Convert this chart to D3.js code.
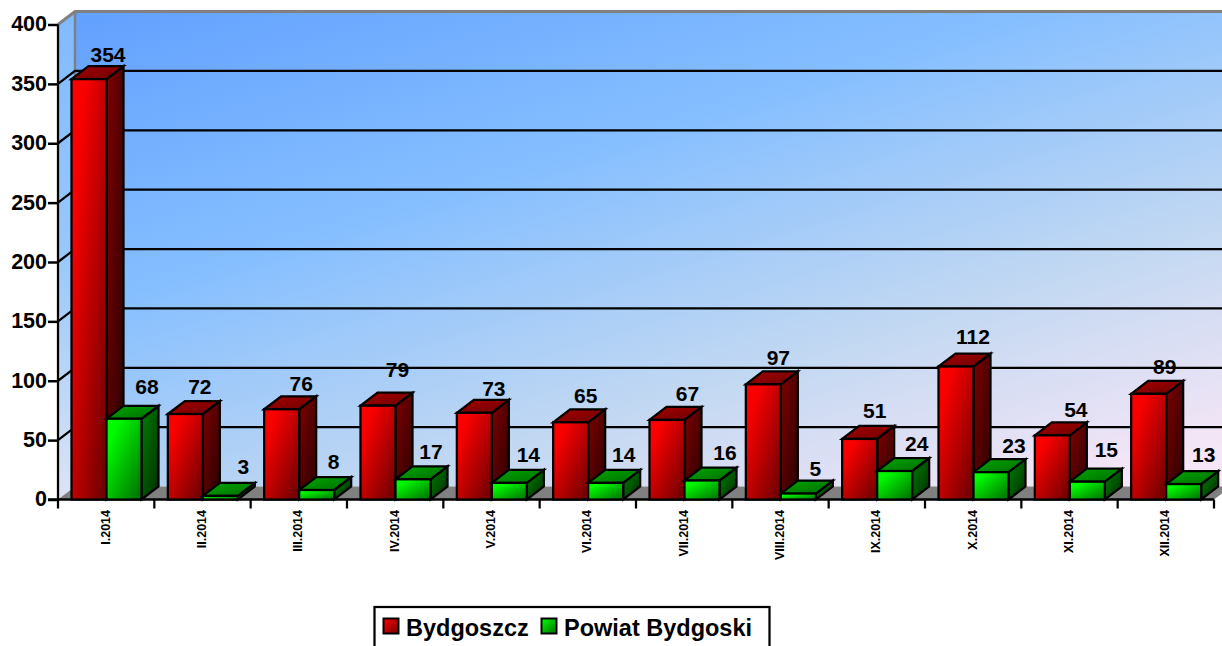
<!DOCTYPE html>
<html><head><meta charset="utf-8">
<script src="https://cdn.jsdelivr.net/npm/d3@7"></script>
<style>html,body{margin:0;padding:0;background:#fff;overflow:hidden}svg{display:block}text{font-family:"Liberation Sans",Arial,sans-serif;font-weight:bold;fill:#000}</style>
</head><body><svg id="c" width="1222" height="646"></svg>
<script>
const categories=["I.2014","II.2014","III.2014","IV.2014","V.2014","VI.2014","VII.2014","VIII.2014","IX.2014","X.2014","XI.2014","XII.2014"];
const seriesNames=["Bydgoszcz","Powiat Bydgoski"];
const bydgoszcz=[354,72,76,79,73,65,67,97,51,112,54,89];
const powiat=[68,3,8,17,14,14,16,5,24,23,15,13];
const yTicks=[0,50,100,150,200,250,300,350,400];
// label placement tweaks seen in the reference (shift from the bar centre / bar top)
const redShiftX=[19,14.5,19.5,19.5,19.5,15,20.5,15,15,17,23.5,16];
const greenShiftX=[23,23,17,18,19,18,23,17,22,23,19,20];
const redShiftY=[4,7,5,15.7,4,6,6,6,8,9.5,5.5,7];
const greenShiftY=[11.5,8.5,8,7,8,8,7.5,4.5,7,6,11.7,9];

const W=1222,H=646,dx=17,dy=-13;
const svg=d3.select("#c");
const y=d3.scaleLinear().domain([0,400]).range([499.5,24.5]);
const x=d3.scaleBand().domain(categories).range([58,1214]);
const xs=d3.scaleBand().domain(seriesNames).range([13.5,83.5]);
const defs=svg.append("defs");
function grad(id,stops,x1=0,y1=0,x2=1,y2=1,extra){
  const g=defs.append("linearGradient").attr("id",id).attr("x1",x1).attr("y1",y1).attr("x2",x2).attr("y2",y2);
  if(extra)g.attr("gradientUnits",extra);
  stops.forEach(s=>g.append("stop").attr("offset",s[0]).attr("stop-color",s[1]));
}
grad("wall",[[0,"#62a0ff"],[.38,"#86bfff"],[.72,"#c2d8f2"],[1,"#f6e6f6"]],75,11,300,735,"userSpaceOnUse");
grad("side",[[0,"#80baff"],[.5,"#98c8fb"],[1,"#dce4f4"]],0,0,0,1);
grad("rf",[[0,"#ff0000"],[.2,"#f80000"],[1,"#680000"]],0,0,1,1);
grad("rs",[[0,"#800000"],[1,"#280000"]],0,0,1,1);
grad("rt",[[0,"#a80000"],[1,"#6c0000"]],0,0,1,1);
grad("gf",[[0,"#00ff00"],[.2,"#00f800"],[1,"#006c00"]],0,0,1,1);
grad("gs",[[0,"#008000"],[1,"#002c00"]],0,0,1,1);
grad("gt",[[0,"#00a800"],[1,"#006c00"]],0,0,1,1);
grad("lr",[[0,"#ff0000"],[1,"#700000"]],0,0,1,1);
grad("lg",[[0,"#00ff00"],[1,"#007000"]],0,0,1,1);

const line=d3.line();
const x0=x.range()[0],x1=x.range()[1],y0=y(0),yT=y(400);
svg.append("path").attr("d",line([[x0,y0],[x0,yT],[x0+dx,yT+dy],[x0+dx,y0+dy]])+"Z").attr("fill","url(#side)");
svg.append("rect").attr("x",x0+dx).attr("y",yT+dy).attr("width",W-x0-dx).attr("height",y0-yT).attr("fill","url(#wall)");
svg.append("path").attr("d",line([[x0,y0],[x0+dx,y0+dy],[x1+dx,y0+dy],[x1,y0]])+"Z").attr("fill","#808080");
svg.append("path").attr("d",line([[x0,yT],[x0+dx,yT+dy],[W,yT+dy]])).attr("fill","none").attr("stroke","#808080").attr("stroke-width",3);
svg.append("line").attr("x1",x0+dx).attr("x2",x0+dx).attr("y1",yT+dy).attr("y2",y0+dy).attr("stroke","#808080").attr("stroke-width",2.5);
svg.append("g").selectAll("path").data(yTicks.filter(t=>t>0&&t<400)).join("path")
 .attr("d",t=>line([[x0,y(t)],[x0+dx,y(t)+dy],[W,y(t)+dy]]))
 .attr("fill","none").attr("stroke","#000").attr("stroke-width",2.25);
const ay=d3.axisLeft(y).tickValues(yTicks).tickSize(10).tickPadding(1);
const gy=svg.append("g").attr("transform",`translate(${x0},0)`).call(ay);
gy.selectAll("line").attr("stroke","#000").attr("stroke-width",2.5);
gy.select(".domain").attr("stroke","#000").attr("stroke-width",2.25).attr("d",`M0,${yT}V${y0}`);
gy.selectAll("text").style("font-family",'"Liberation Sans",Arial,sans-serif').style("font-weight","bold").style("font-size","21.5px").attr("fill","#000").attr("dy","0.3em");
const tickX=categories.map(c=>x(c)).concat([x1]);
svg.append("g").selectAll("line").data(tickX).join("line").attr("x1",d=>d).attr("x2",d=>d).attr("y1",y0).attr("y2",y0+9).attr("stroke","#000").attr("stroke-width",2.25);
svg.append("line").attr("x1",x0-10).attr("x2",x1).attr("y1",y0).attr("y2",y0).attr("stroke","#000").attr("stroke-width",2.5);
svg.append("g").selectAll("text").data(categories).join("text")
 .attr("transform",c=>`translate(${x(c)+x.bandwidth()/2+3.5},510) rotate(-90)`)
 .attr("text-anchor","end").attr("font-size","12.5px").text(c=>c);
function bar(g,xl,w,v,p){
  const t=y(v),b=y(0);
  g.append("path").attr("d",line([[xl+w,t],[xl+w+dx,t+dy],[xl+w+dx,b+dy],[xl+w,b]])+"Z").attr("fill",`url(#${p}s)`);
  g.append("path").attr("d",line([[xl,t],[xl+dx,t+dy],[xl+w+dx,t+dy],[xl+w,t]])+"Z").attr("fill",`url(#${p}t)`);
  g.append("rect").attr("x",xl).attr("y",t).attr("width",w).attr("height",b-t).attr("fill",`url(#${p}f)`);
  g.selectAll("*").attr("stroke","#000").attr("stroke-width",2.25).attr("stroke-linejoin","miter");
}
const bars=svg.append("g");
categories.forEach((c,i)=>{
  [[bydgoszcz[i],seriesNames[0],"r"],[powiat[i],seriesNames[1],"g"]].forEach(([v,n,p])=>{
    bar(bars.append("g"),x(c)+xs(n),xs.bandwidth(),v,p);
  });
});
const labels=svg.append("g").attr("text-anchor","middle").attr("font-size","21px");
categories.forEach((c,i)=>{
  labels.append("text").attr("x",x(c)+xs(seriesNames[0])+xs.bandwidth()/2+redShiftX[i]).attr("y",y(bydgoszcz[i])+dy-redShiftY[i]).text(bydgoszcz[i]);
  labels.append("text").attr("x",x(c)+xs(seriesNames[1])+xs.bandwidth()/2+greenShiftX[i]).attr("y",y(powiat[i])+dy-greenShiftY[i]).text(powiat[i]);
});
const lg=svg.append("g");
lg.append("rect").attr("x",374.5).attr("y",607).attr("width",395).attr("height",60).attr("fill","#fff").attr("stroke","#000").attr("stroke-width",2.25);
[[383.5,406,"lr"],[541.5,564,"lg"]].forEach((d,i)=>{
  lg.append("rect").attr("x",d[0]).attr("y",618.5).attr("width",15).attr("height",15).attr("fill",`url(#${d[2]})`).attr("stroke","#000").attr("stroke-width",2);
  lg.append("text").attr("x",d[1]).attr("y",636).attr("font-size","23.5px").text(seriesNames[i]);
});
</script></body></html>
